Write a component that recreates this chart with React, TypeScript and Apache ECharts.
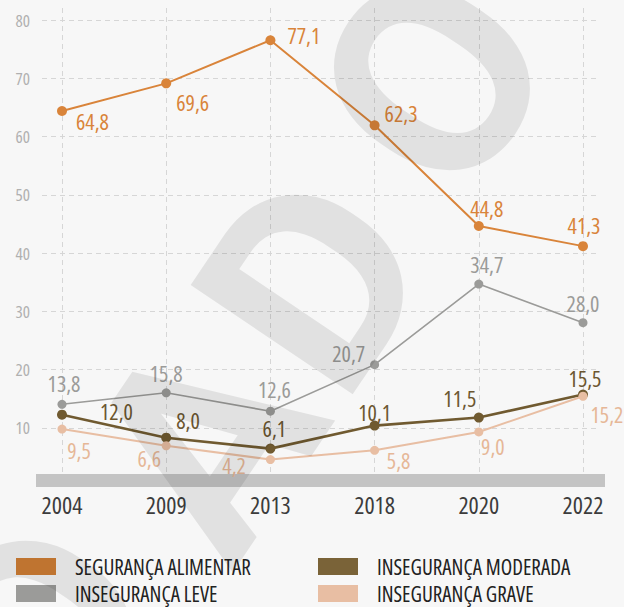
import React, { useEffect, useRef } from "react";
import * as echarts from "echarts";

const years = ["2004", "2009", "2013", "2018", "2020", "2022"];
const seguranca = [64.8, 69.6, 77.1, 62.3, 44.8, 41.3];
const leve = [13.8, 15.8, 12.6, 20.7, 34.7, 28.0];
const moderada = [12.0, 8.0, 6.1, 10.1, 11.5, 15.5];
const grave = [9.5, 6.6, 4.2, 5.8, 9.0, 15.2];

const seriesNames = [
  "SEGURANÇA ALIMENTAR",
  "INSEGURANÇA LEVE",
  "INSEGURANÇA MODERADA",
  "INSEGURANÇA GRAVE",
];

// label placement (style only)
const segPos: [string, number[]][] = [
  ["right", [4, 10]],
  ["right", [0, 19]],
  ["right", [7, -5]],
  ["right", [0, -12]],
  ["top", [8, 3]],
  ["top", [1, 0]],
];
const levePos: [string, number[]][] = [
  ["top", [2, -1]],
  ["top", [0, 1]],
  ["top", [4, -2]],
  ["left", [0, -12]],
  ["top", [8, 0]],
  ["top", [0, 1]],
];
const modPos: [string, number[]][] = [
  ["right", [28, -4]],
  ["right", [0, -18]],
  ["top", [4, 0]],
  ["top", [0, 7]],
  ["top", [-19, 1]],
  ["top", [2, 4]],
];
const gravePos: [string, number[]][] = [
  ["bottom", [17, 0]],
  ["bottom", [-17, -8]],
  ["left", [-15, 5]],
  ["bottom", [24, -11]],
  ["bottom", [14, -6]],
  ["right", [-2, 18]],
];

const FONT = "'Open Sans'";

const colors = ["#d9843a", "#9b9b99", "#705a30", "#e8bea3"];
const labelColors = ["#d9843a", "#9b9b99", "#6b5630", "#e6b797"];
const legendColors = ["#d17f35", "#9b9b99", "#7a6338", "#e8bea3"];

function mkData(vals: number[], pos: [string, number[]][], color: string) {
  return vals.map((v, i) => ({
    value: v,
    label: {
      show: true,
      position: pos[i][0],
      offset: pos[i][1],
      color,
      fontSize: 22,
      lineHeight: 22,
      fontFamily: FONT,
      formatter: (p: any) => Number(p.value).toFixed(1).replace(".", ","),
    },
  }));
}

export default function App() {
  const ref = useRef<HTMLDivElement>(null);
  useEffect(() => {
    if (!ref.current) return;
    const chart = echarts.init(ref.current, null, { renderer: "svg" });
    const wm = "rgba(0,0,0,0.085)";
    const rot = (56 * Math.PI) / 180;
    const letter = (t: string, x: number, y: number) => ({
      type: "text",
      x,
      y,
      rotation: rot,
      z: 100,
      silent: true,
      style: {
        text: t,
        fill: wm,
        font: "bold 275px Roboto, sans-serif",
        align: "center",
        verticalAlign: "middle",
      },
    });
    const lineSeries = (
      name: string,
      vals: number[],
      pos: [string, number[]][],
      idx: number,
      width: number,
      size: number
    ) => ({
      name,
      type: "line",
      xAxisIndex: 1,
      yAxisIndex: 1,
      data: mkData(vals, pos, labelColors[idx]),
      symbol: "circle",
      symbolSize: size,
      lineStyle: { color: colors[idx], width },
      itemStyle: { color: colors[idx] },
      z: 5 + idx,
    });
    const legend = (i: number, left: number, top: number) => ({
      data: [{ name: seriesNames[i], itemStyle: { color: legendColors[i] } }],
      left,
      top,
      padding: 0,
      icon: "rect",
      itemWidth: 40,
      itemHeight: 17,
      selectedMode: false,
      textStyle: {
        fontSize: 21,
        lineHeight: 21,
        fontFamily: FONT,
        color: "#222",
        padding: [0, 0, 0, 14],
      },
    });
    chart.setOption({
      animation: false,
      backgroundColor: "#f7f7f7",
      grid: [
        { left: 42, right: 24, top: 20, bottom: 121 },
        { left: 62, right: 41, top: 8, bottom: 123.3 },
      ],
      xAxis: [
        {
          type: "category",
          gridIndex: 0,
          data: years,
          show: false,
        },
        {
          type: "category",
          gridIndex: 1,
          data: years,
          boundaryGap: false,
          axisLine: { show: false },
          axisTick: { show: false },
          axisLabel: {
            interval: 0,
            color: "#3c3c3c",
            fontSize: 24,
            lineHeight: 24,
            fontFamily: FONT,
            margin: 9,
          },
          splitLine: {
            show: true,
            lineStyle: { color: "#d6d6d6", type: [5, 4], width: 1 },
          },
        },
      ],
      yAxis: [
        {
          type: "value",
          gridIndex: 0,
          min: 0,
          max: 80,
          interval: 10,
          axisLine: { show: false },
          axisTick: { show: false },
          axisLabel: {
            color: "#b0b0b0",
            fontSize: 17,
            fontFamily: FONT,
            margin: 12,
            formatter: (v: number) => (v === 0 ? "" : String(v)),
          },
          splitLine: {
            lineStyle: { color: "#d6d6d6", type: [5, 4], width: 1 },
          },
        },
        {
          type: "value",
          gridIndex: 1,
          min: 0,
          max: 82.7,
          show: false,
          splitLine: { show: false },
        },
      ],
      legend: [
        legend(0, 16, 556),
        legend(2, 318, 556),
        legend(1, 16, 583),
        legend(3, 318, 583),
      ],
      series: [
        lineSeries(seriesNames[0], seguranca, segPos, 0, 2, 10),
        lineSeries(seriesNames[1], leve, levePos, 1, 1.6, 9),
        lineSeries(seriesNames[2], moderada, modPos, 2, 2.6, 10),
        lineSeries(seriesNames[3], grave, gravePos, 3, 2, 9),
      ],
      graphic: [
        {
          type: "rect",
          shape: { x: 36, y: 474, width: 569, height: 13 },
          style: { fill: "#c4c4c4" },
          z: 1,
          silent: true,
        },
        letter("D", 45, 628),
        letter("A", 206, 444),
        letter("D", 315, 282),
        letter("O", 435, 80),
      ],
    });
    return () => chart.dispose();
  }, []);
  return (
    <>
      <style>{`#root svg text { font-stretch: 75%; }`}</style>
      <div
        ref={ref}
        style={{ position: "fixed", left: 0, top: 0, width: 624, height: 607 }}
      />
    </>
  );
}
